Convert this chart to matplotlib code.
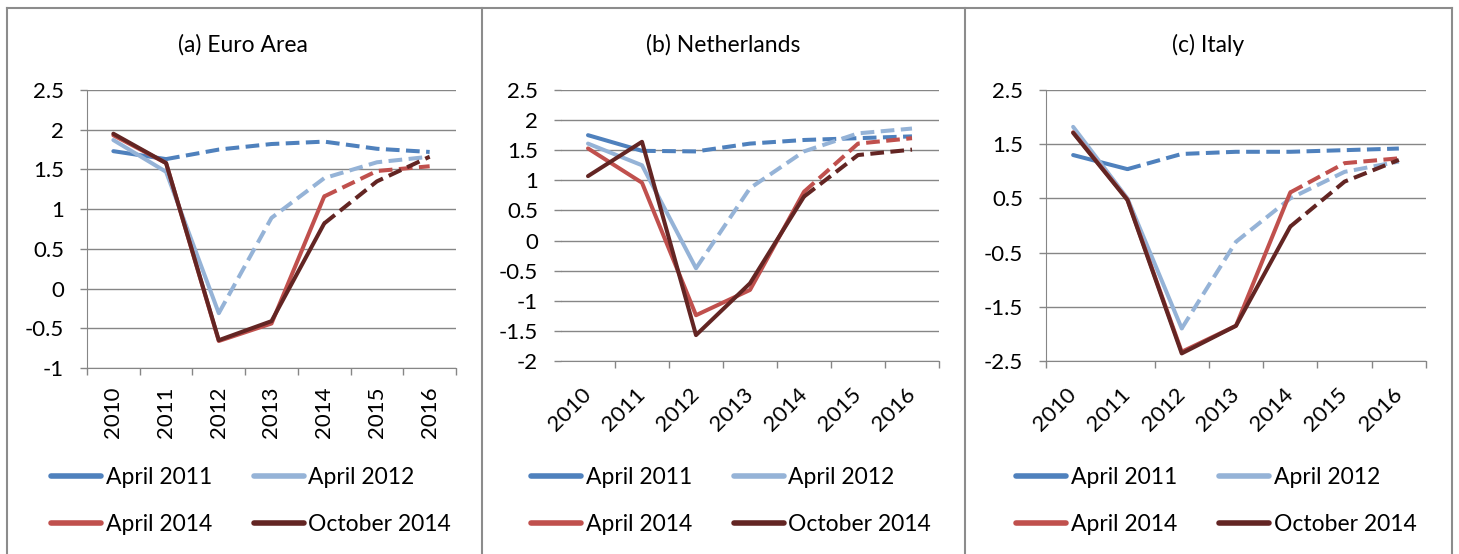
import matplotlib.pyplot as plt
from matplotlib.lines import Line2D

plt.rcParams['font.family'] = ['Lato', 'DejaVu Sans']

W, H = 1459, 554

# categories and series
years = ['2010', '2011', '2012', '2013', '2014', '2015', '2016']
vintages = ['April 2011', 'April 2012', 'April 2014', 'October 2014']
colors = ['#4F81BD', '#95B3D7', '#C0504D', '#632523']
# last outturn year of each vintage (solid up to it, dashed forecast after)
last_actual = [1, 2, 4, 4]

# (a) Euro Area
ea_apr2011 = [1.73, 1.63, 1.75, 1.82, 1.85, 1.76, 1.72]
ea_apr2012 = [1.87, 1.47, -0.31, 0.89, 1.39, 1.59, 1.66]
ea_apr2014 = [1.93, 1.58, -0.66, -0.44, 1.16, 1.48, 1.54]
ea_oct2014 = [1.95, 1.58, -0.65, -0.41, 0.82, 1.35, 1.66]

# (b) Netherlands
nl_apr2011 = [1.75, 1.49, 1.48, 1.61, 1.67, 1.70, 1.73]
nl_apr2012 = [1.61, 1.25, -0.46, 0.87, 1.48, 1.78, 1.86]
nl_apr2014 = [1.53, 0.96, -1.24, -0.82, 0.81, 1.61, 1.70]
nl_oct2014 = [1.07, 1.64, -1.57, -0.71, 0.73, 1.42, 1.51]

# (c) Italy
it_apr2011 = [1.30, 1.04, 1.32, 1.36, 1.36, 1.39, 1.42]
it_apr2012 = [1.82, 0.50, -1.90, -0.30, 0.50, 0.99, 1.18]
it_apr2014 = [1.72, 0.48, -2.33, -1.85, 0.61, 1.15, 1.24]
it_oct2014 = [1.71, 0.47, -2.36, -1.85, -0.02, 0.81, 1.21]

ea_yticks = [-1, -0.5, 0, 0.5, 1, 1.5, 2, 2.5]
nl_yticks = [-2, -1.5, -1, -0.5, 0, 0.5, 1, 1.5, 2, 2.5]
it_yticks = [-2.5, -1.5, -0.5, 0.5, 1.5, 2.5]

grey = '#868686'


def fig_rect(left, top, right, bottom):
    return [left / W, 1 - bottom / H, (right - left) / W, (bottom - top) / H]


def fmt(v):
    return ('%g' % v)


def draw_panel(ax, series, yticks, rot, show_yaxis, skip_ticks=()):
    x = list(range(len(years)))
    for vals, col, s in zip(series, colors, last_actual):
        ax.plot(x[:s + 1], vals[:s + 1], color=col, lw=2.9,
                solid_capstyle='round', solid_joinstyle='round')
        ax.plot(x[s:], vals[s:], color=col, lw=2.9, dashes=(3.4, 1.6),
                solid_joinstyle='round')
    ax.set_xlim(-0.5, len(years) - 0.5)
    ax.set_ylim(yticks[0], yticks[-1])
    ax.set_yticks(yticks)
    ax.set_yticklabels([fmt(v) for v in yticks])
    ax.yaxis.grid(True, color=grey, lw=1)
    ax.set_axisbelow(True)
    for side in ['top', 'right']:
        ax.spines[side].set_visible(False)
    ax.spines['left'].set_visible(show_yaxis)
    ax.spines['left'].set_color(grey)
    ax.spines['bottom'].set_color(grey)
    bounds = [i - 0.5 for i in range(len(years) + 1) if i not in skip_ticks]
    ax.set_xticks(bounds)
    ax.set_xticklabels([''] * len(bounds))
    ax.set_xticks(x, minor=True)
    ax.tick_params(axis='both', which='major', color=grey, length=5, width=1)
    ax.tick_params(axis='y', labelsize=16, pad=11.5)
    if rot == 90:
        ax.set_xticklabels(years, minor=True, rotation=90, fontsize=16)
        ax.tick_params(axis='x', which='minor', length=0, pad=13)
    else:
        ax.set_xticklabels(years, minor=True, rotation=45, fontsize=16,
                           ha='right', va='center', rotation_mode='anchor')
        ax.tick_params(axis='x', which='minor', length=0, pad=22)


fig = plt.figure(figsize=(W / 100, H / 100), dpi=100)

ax_a = fig.add_axes(fig_rect(87, 90, 456, 368))
draw_panel(ax_a, [ea_apr2011, ea_apr2012, ea_apr2014, ea_oct2014],
           ea_yticks, 90, True)
ax_b = fig.add_axes(fig_rect(561, 90, 939, 361))
draw_panel(ax_b, [nl_apr2011, nl_apr2012, nl_apr2014, nl_oct2014],
           nl_yticks, 45, False, skip_ticks=(0,))
ax_c = fig.add_axes(fig_rect(1046, 90, 1426, 361))
draw_panel(ax_c, [it_apr2011, it_apr2012, it_apr2014, it_oct2014],
           it_yticks, 45, True, skip_ticks=(1,))

titles = ['(a) Euro Area', '(b) Netherlands', '(c) Italy']
title_x = [243, 723, 1208]
for t, tx in zip(titles, title_x):
    fig.text(tx / W, 1 - 45 / H, t, ha='center', va='center', fontsize=16.5)

# legends (row-wise order: matplotlib fills columns first)
handles = [Line2D([], [], color=c, lw=4, solid_capstyle='round') for c in colors]
order = [0, 2, 1, 3]
for lx in [51, 531, 1016]:
    fig.legend([handles[i] for i in order], [vintages[i] for i in order],
               loc='upper left', bbox_to_anchor=(lx / W, 1 - 467 / H),
               ncol=2, frameon=False, fontsize=16.5, handlelength=2.2,
               handletextpad=0.2, columnspacing=1.8, labelspacing=1.15,
               borderpad=0, borderaxespad=0)

# panel frames
frame = dict(transform=fig.transFigure, color='#8c8c8c', lw=1.5)
fig.add_artist(Line2D([7 / W, 1452 / W], [1 - 8 / H, 1 - 8 / H], **frame))
for fx in [7, 482, 965, 1452]:
    fig.add_artist(Line2D([fx / W, fx / W], [1 - 8 / H, 0], **frame))

fig.savefig('out.png', dpi=100)
